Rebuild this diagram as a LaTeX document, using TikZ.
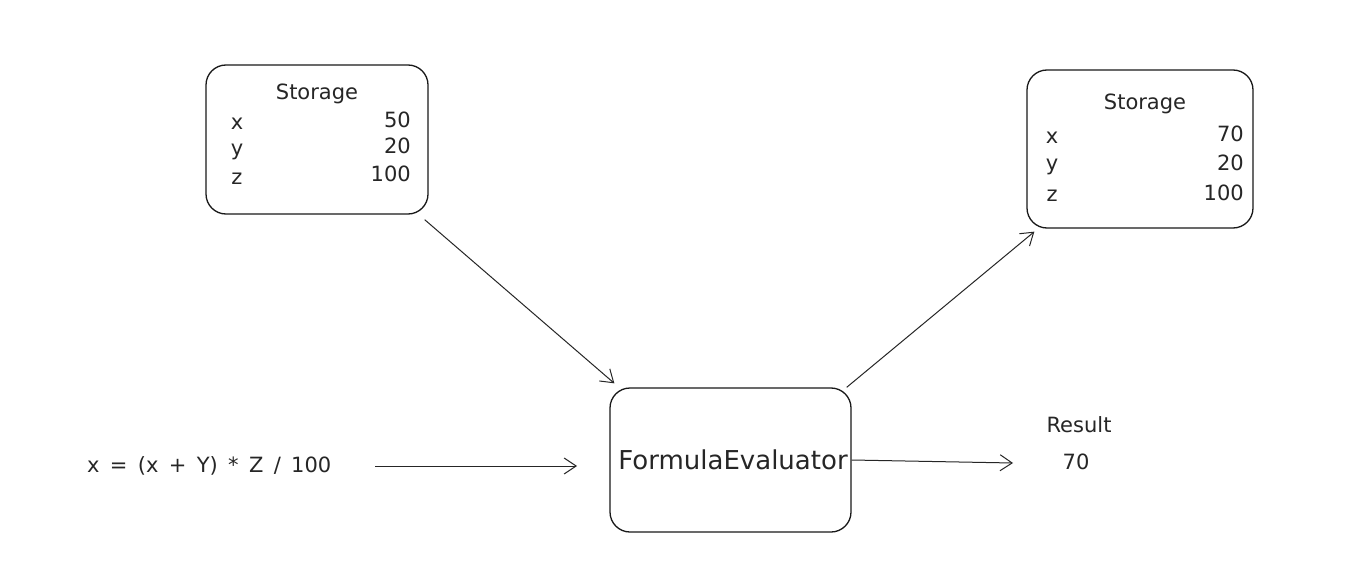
\documentclass[tikz,border=0pt]{standalone}
\usepackage{fontspec}
\setmainfont{DejaVu Sans}
\newfontfamily\widefont[WordSpace=1.55]{DejaVu Sans}
\usetikzlibrary{arrows.meta}
\begin{document}
\begin{tikzpicture}[x=1pt,y=-1pt,
  box/.style={draw=black!90,line width=1.3pt,rounded corners=20pt,inner sep=0pt},
  lbl/.style={inner sep=0pt,font=\fontsize{21}{23}\selectfont,text=black!85},
  conn/.style={draw=black!85,line width=1pt,-{Straight Barb[length=12pt,width=16pt,line width=1pt]}}]
\useasboundingbox[fill=white] (0,0) rectangle (1372,572);
% left storage
\node[box,minimum width=222pt,minimum height=149pt] (s1) at (317,139.5) {};
\node[lbl] (s1t) at (317,94) {Storage};
\node[lbl] (s1x) at (237,124) {x};
\node[lbl] (s1y) at (237,152) {y};
\node[lbl] (s1z) at (237,179) {z};
\node[lbl,anchor=east] (s1xv) at (411,120) {50};
\node[lbl,anchor=east] (s1yv) at (411,146) {20};
\node[lbl,anchor=east] (s1zv) at (411,174) {100};
% right storage
\node[box,minimum width=226pt,minimum height=158pt] (s2) at (1140,149) {};
\node[lbl] (s2t) at (1145,104) {Storage};
\node[lbl] (s2x) at (1052,138) {x};
\node[lbl] (s2y) at (1052,167) {y};
\node[lbl] (s2z) at (1052,196) {z};
\node[lbl,anchor=east] (s2xv) at (1244,134) {70};
\node[lbl,anchor=east] (s2yv) at (1244,163) {20};
\node[lbl,anchor=east] (s2zv) at (1244,193) {100};
% evaluator
\node[box,minimum width=241pt,minimum height=144pt] (fe) at (730.5,460) {};
\node[inner sep=0pt,font=\fontsize{26}{28}\selectfont,text=black!85] (fet) at (733,460) {FormulaEvaluator};
% formula
\node[lbl,anchor=west,font=\widefont\fontsize{21}{23}\selectfont] (form) at (87,466) {x = (x + Y) * Z / 100};
\coordinate (fin) at (577,466);
% result
\node[lbl] (res) at (1079,425) {Result};
\node[lbl] (resv) at (1076,462) {70};
\coordinate (rin) at (1013,463);
% connectors
\draw[conn] ([shift={(-4pt,-5pt)}]s1.south east) -- ([shift={(5pt,4pt)}]fe.north west);
\draw[conn] ([shift={(-5pt,0pt)}]fe.north east) -- ([shift={(8pt,-3pt)}]s2.south west);
\draw[conn] ([xshift=44pt]form.east) -- (fin);
\draw[conn] (fe.east) -- (rin);
\end{tikzpicture}
\end{document}
